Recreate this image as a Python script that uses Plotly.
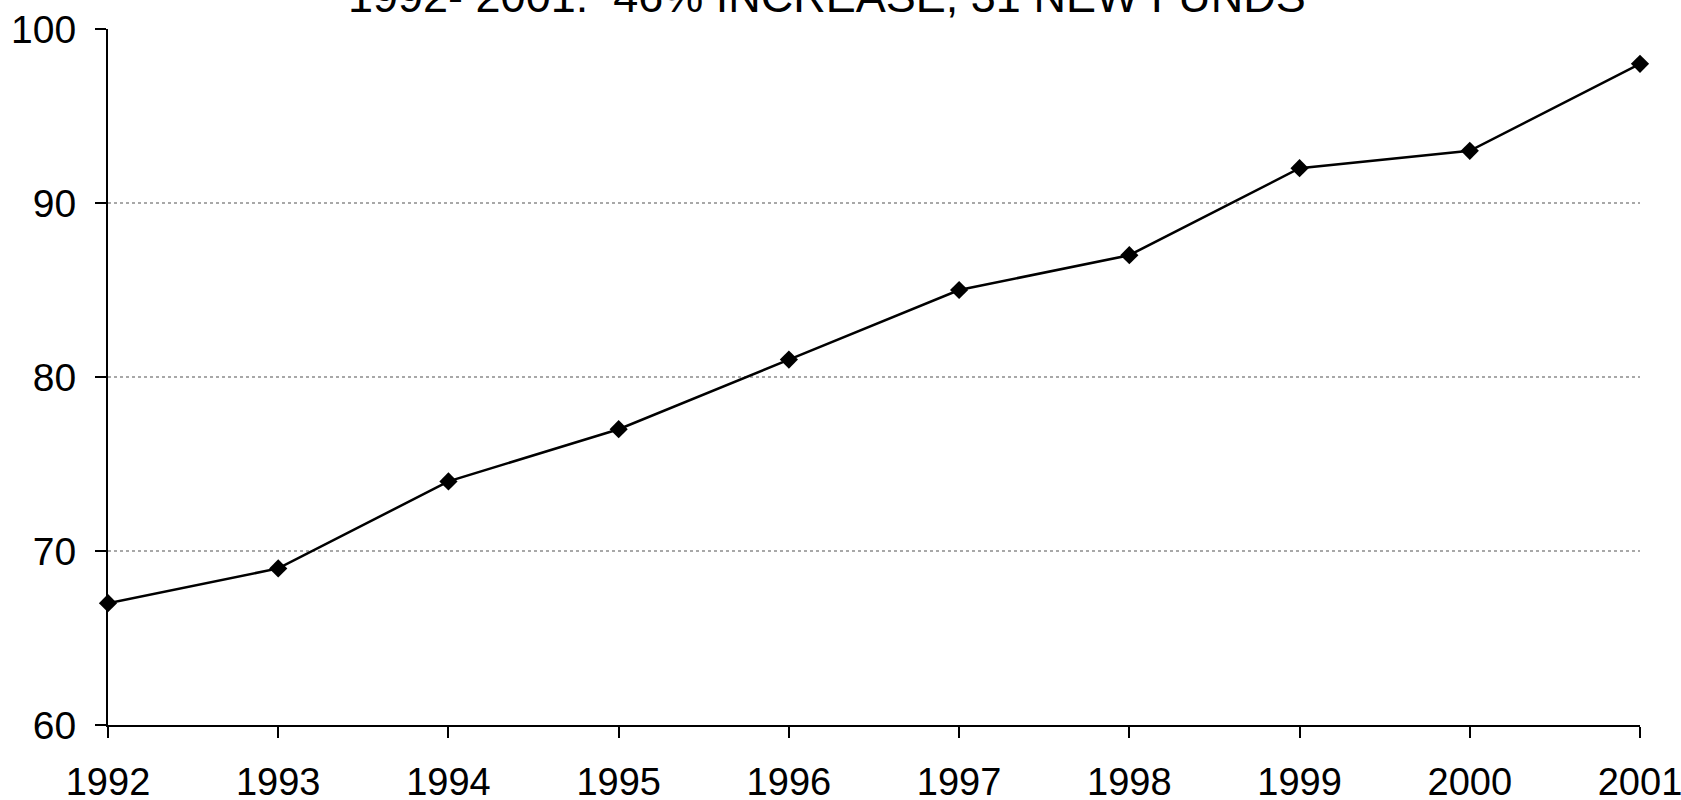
import plotly.graph_objects as go

years = [1992, 1993, 1994, 1995, 1996, 1997, 1998, 1999, 2000, 2001]
funds = [67, 69, 74, 77, 81, 85, 87, 92, 93, 98]
y_ticks = [60, 70, 80, 90, 100]
title_text = "1992- 2001:\u00a0\u00a046% INCREASE, 31 NEW FUNDS"

FONT = "Liberation Sans, Arial, sans-serif"

fig = go.Figure()
fig.add_trace(go.Scatter(
    x=years, y=funds, mode="lines+markers",
    line=dict(color="black", width=2.5),
    marker=dict(symbol="diamond", size=14, color="black"),
    cliponaxis=False, showlegend=False, hoverinfo="x+y",
))

fig.update_layout(
    width=1681, height=800,
    margin=dict(l=108, r=41, t=29, b=75, autoexpand=False),
    plot_bgcolor="white", paper_bgcolor="white",
    font=dict(family=FONT, color="black", size=38),
    annotations=[dict(
        text=title_text, xref="paper", yref="paper",
        x=(827 - 108) / (1640 - 108), y=1, xanchor="center", yanchor="bottom",
        yshift=5, showarrow=False, font=dict(size=45, family=FONT, color="black"),
    )],
)

fig.update_xaxes(
    range=[years[0], years[-1]], tickvals=years, ticktext=[str(y) for y in years],
    showline=True, linecolor="black", linewidth=2,
    ticks="outside", ticklen=11, tickwidth=2, tickcolor="black",
    showgrid=False, zeroline=False, ticklabelstandoff=11, automargin=False,
    ticklabeloverflow="allow",
    tickfont=dict(size=38, family=FONT, color="black"),
)
fig.update_yaxes(
    range=[60, 100], tickvals=y_ticks,
    showline=True, linecolor="black", linewidth=2,
    ticks="outside", ticklen=11, tickwidth=2, tickcolor="black",
    showgrid=True, gridcolor="#a8a8a8", gridwidth=1.5, griddash="dot",
    zeroline=False, ticklabelstandoff=11, automargin=False,
    ticklabeloverflow="allow",
    tickfont=dict(size=39, family=FONT, color="black"),
)

fig.write_html(
    "out.html",
    config={"displayModeBar": False},
    post_script="document.body.style.margin='0';document.body.style.overflow='hidden';",
)
